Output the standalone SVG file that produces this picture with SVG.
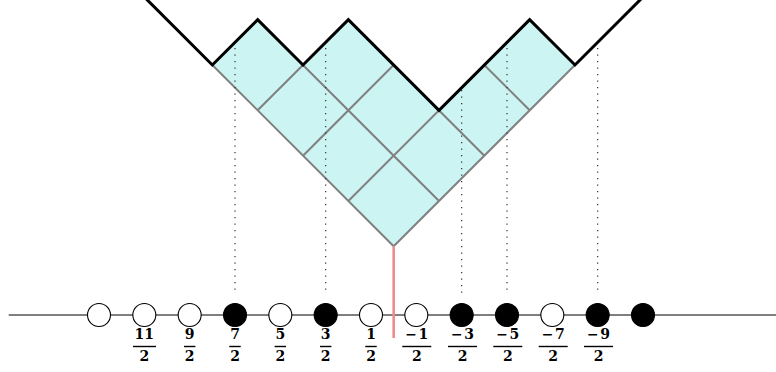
<svg xmlns="http://www.w3.org/2000/svg" width="776" height="372" viewBox="0 0 776 372">
<style>
.grid{stroke:#808080;stroke-width:2;fill:none}
.dot{stroke:#333;stroke-width:1.2;stroke-dasharray:1.2 5.3;fill:none}
.prof{stroke:#000;stroke-width:3;fill:none;stroke-linejoin:miter}
.pe{fill:#fff;stroke:#000;stroke-width:1.1}
.pf{fill:#000;stroke:#000;stroke-width:1.1}
.lab{font-family:"DejaVu Serif","Liberation Serif",serif;font-weight:bold;font-size:14px;text-anchor:middle;fill:#000}
.neg{letter-spacing:1.5px}
.bar{stroke:#000;stroke-width:1.4}
</style>
<rect width="776" height="372" fill="#fff"/>
<g id="diagram">
<polygon points="393.67,246.33 575,65 529.67,19.67 439,110.33 348.33,19.67 303,65 257.67,19.67 212.33,65" fill="#ccf4f3"/>
<g class="grid">
<line x1="393.67" y1="246.33" x2="212.33" y2="65"/>
<line x1="439" y1="201" x2="257.67" y2="19.67"/>
<line x1="484.33" y1="155.67" x2="348.33" y2="19.67"/>
<line x1="529.67" y1="110.33" x2="484.33" y2="65"/>
<line x1="393.67" y1="246.33" x2="575" y2="65"/>
<line x1="348.33" y1="201" x2="529.67" y2="19.67"/>
<line x1="303" y1="155.67" x2="393.67" y2="65"/>
<line x1="257.67" y1="110.33" x2="348.33" y2="19.67"/>
</g>
</g>
<g id="connectors">
<line class="dot" x1="235" y1="48" x2="235" y2="294"/>
<line class="dot" x1="325.67" y1="48" x2="325.67" y2="294"/>
<line class="dot" x1="461.67" y1="90" x2="461.67" y2="294"/>
<line class="dot" x1="507" y1="48" x2="507" y2="294"/>
<line class="dot" x1="597.67" y1="48" x2="597.67" y2="294"/>
<path class="prof" d="M145.33,-2 L212.33,65 L257.67,19.67 L303,65 L348.33,19.67 L439,110.33 L529.67,19.67 L575,65 L642,-2"/>
<line x1="8.7" y1="315" x2="776" y2="315" stroke="#000" stroke-width="1.2"/>
<line x1="393.67" y1="246.33" x2="393.67" y2="338" stroke="#f28a8a" stroke-width="2.6"/>
</g>
<g id="p0"><circle class="pe" cx="99" cy="315" r="11.5"/></g>
<g id="p1"><circle class="pe" cx="144.33" cy="315" r="11.5"/><text class="lab" x="144.33" y="339">11</text><line class="bar" x1="133" y1="346.5" x2="156" y2="346.5"/><text class="lab" x="144.33" y="361">2</text></g>
<g id="p2"><circle class="pe" cx="189.67" cy="315" r="11.5"/><text class="lab" x="189.67" y="339">9</text><line class="bar" x1="184" y1="346.5" x2="195.4" y2="346.5"/><text class="lab" x="189.67" y="361">2</text></g>
<g id="p3"><circle class="pf" cx="235" cy="315" r="11.5"/><text class="lab" x="235" y="339">7</text><line class="bar" x1="229.3" y1="346.5" x2="240.7" y2="346.5"/><text class="lab" x="235" y="361">2</text></g>
<g id="p4"><circle class="pe" cx="280.33" cy="315" r="11.5"/><text class="lab" x="280.33" y="339">5</text><line class="bar" x1="274.6" y1="346.5" x2="286" y2="346.5"/><text class="lab" x="280.33" y="361">2</text></g>
<g id="p5"><circle class="pf" cx="325.67" cy="315" r="11.5"/><text class="lab" x="325.67" y="339">3</text><line class="bar" x1="320" y1="346.5" x2="331.4" y2="346.5"/><text class="lab" x="325.67" y="361">2</text></g>
<g id="p6"><circle class="pe" cx="371" cy="315" r="11.5"/><text class="lab" x="371" y="339">1</text><line class="bar" x1="365.3" y1="346.5" x2="376.7" y2="346.5"/><text class="lab" x="371" y="361">2</text></g>
<g id="p7"><circle class="pe" cx="416.33" cy="315" r="11.5"/><text class="lab neg" x="417.5" y="339">−1</text><line class="bar" x1="402.3" y1="346.5" x2="431.3" y2="346.5"/><text class="lab" x="416.8" y="361">2</text></g>
<g id="p8"><circle class="pf" cx="461.67" cy="315" r="11.5"/><text class="lab neg" x="463.2" y="339">−3</text><line class="bar" x1="448" y1="346.5" x2="477" y2="346.5"/><text class="lab" x="462.5" y="361">2</text></g>
<g id="p9"><circle class="pf" cx="507" cy="315" r="11.5"/><text class="lab neg" x="508.5" y="339">−5</text><line class="bar" x1="493.3" y1="346.5" x2="522.3" y2="346.5"/><text class="lab" x="507.8" y="361">2</text></g>
<g id="p10"><circle class="pe" cx="552.33" cy="315" r="11.5"/><text class="lab neg" x="553.9" y="339">−7</text><line class="bar" x1="538.7" y1="346.5" x2="567.7" y2="346.5"/><text class="lab" x="553.2" y="361">2</text></g>
<g id="p11"><circle class="pf" cx="597.67" cy="315" r="11.5"/><text class="lab neg" x="599.2" y="339">−9</text><line class="bar" x1="584" y1="346.5" x2="613" y2="346.5"/><text class="lab" x="598.5" y="361">2</text></g>
<g id="p12"><circle class="pf" cx="643" cy="315" r="11.5"/></g>
</svg>
